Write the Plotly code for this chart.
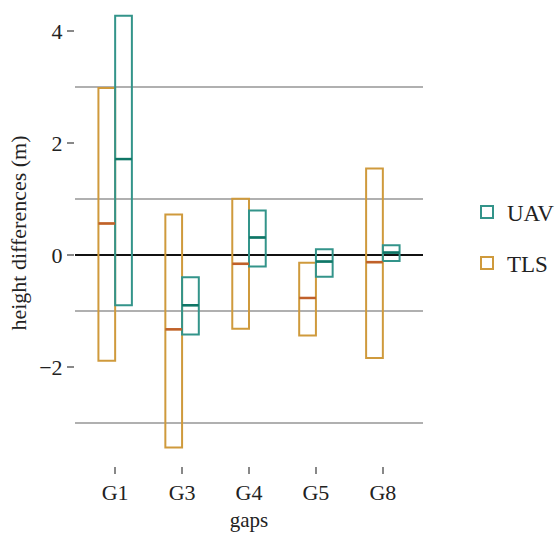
import plotly.graph_objects as go

gaps = ["G1", "G3", "G4", "G5", "G8"]

tls_max = [2.98, 0.72, 1.00, -0.14, 1.54]
tls_med = [0.56, -1.33, -0.16, -0.77, -0.13]
tls_min = [-1.89, -3.44, -1.32, -1.44, -1.84]

uav_max = [4.27, -0.40, 0.79, 0.10, 0.17]
uav_med = [1.71, -0.90, 0.31, -0.12, 0.04]
uav_min = [-0.90, -1.42, -0.21, -0.39, -0.11]

y_ticks = [-2, 0, 2, 4]
y_tick_text = ["\u22122", "0", "2", "4"]

TLS_C = "#cf9a3c"
TLS_MED = "#c0602a"
UAV_C = "#33948a"
UAV_MED = "#0f7666"

FONT = "Times New Roman, Liberation Serif, serif"
TXT = "#222222"
pos = list(range(len(gaps)))

fig = go.Figure()


def add_series(name, lo, med, hi, color, group, rank):
    fig.add_trace(go.Box(
        name=name, x=pos, q1=lo, median=med, q3=hi,
        lowerfence=lo, upperfence=hi,
        fillcolor="rgba(0,0,0,0)", line=dict(color=color, width=2),
        whiskerwidth=0, boxpoints=False, legendgroup=group,
        offsetgroup=group, legendrank=rank,
    ))


add_series("TLS", tls_min, tls_med, tls_max, TLS_C, "tls", 2)
add_series("UAV", uav_min, uav_med, uav_max, UAV_C, "uav", 1)


def med_segments(med, left):
    xs, ys = [], []
    for i, m in zip(pos, med):
        if left:
            xs += [i - 0.25, i, None]
        else:
            xs += [i, i + 0.25, None]
        ys += [m, m, None]
    return xs, ys


xs, ys = med_segments(tls_med, True)
fig.add_trace(go.Scatter(x=xs, y=ys, mode="lines", line=dict(color=TLS_MED, width=2.5),
                         showlegend=False, hoverinfo="skip"))
xs, ys = med_segments(uav_med, False)
fig.add_trace(go.Scatter(x=xs, y=ys, mode="lines", line=dict(color=UAV_MED, width=2.5),
                         showlegend=False, hoverinfo="skip"))

fig.update_layout(
    width=560, height=533,
    margin=dict(l=75, r=136, t=0, b=67),
    paper_bgcolor="white", plot_bgcolor="white",
    boxmode="group", boxgap=0.5, boxgroupgap=0,
    font=dict(family=FONT, size=22, color=TXT),
    showlegend=True,
    legend=dict(x=1.126, xanchor="left", y=0.49, yanchor="middle",
                traceorder="grouped", tracegroupgap=18,
                font=dict(family=FONT, size=23, color=TXT),
                bgcolor="rgba(0,0,0,0)"),
    xaxis=dict(
        range=[-0.6, 4.6], tickvals=pos, ticktext=gaps,
        showgrid=False, zeroline=False, showline=False,
        ticks="outside", ticklen=7, tickwidth=1.5, tickcolor="#888888",
        title=dict(text="gaps", font=dict(family=FONT, size=21, color=TXT), standoff=7),
        tickfont=dict(family=FONT, size=22, color=TXT),
    ),
    yaxis=dict(
        range=[-3.77, 4.55], tickvals=y_ticks, ticktext=y_tick_text,
        showgrid=False,
        minor=dict(tick0=1, dtick=2, showgrid=True, gridcolor="#b0b0b0",
                   gridwidth=2, ticks=""),
        zeroline=True, zerolinecolor="#111111", zerolinewidth=2,
        showline=False,
        ticks="outside", ticklen=7, tickwidth=1.5, tickcolor="#888888",
        title=dict(text="height differences (m)", font=dict(family=FONT, size=22, color=TXT), standoff=6),
        tickfont=dict(family=FONT, size=22, color=TXT),
    ),
)

fig.write_html("out.html")
